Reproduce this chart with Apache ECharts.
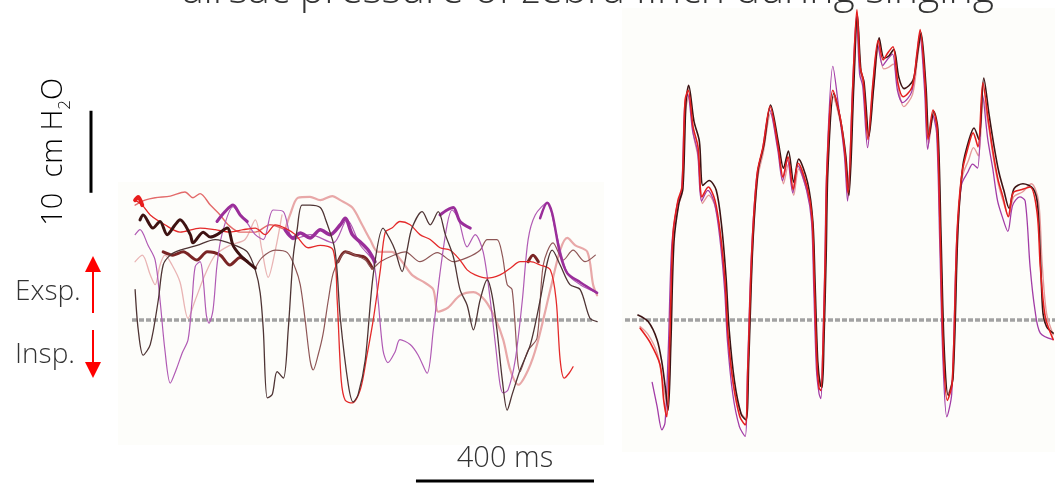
<!DOCTYPE html>
<html><head><meta charset="utf-8">
<script src="https://cdn.jsdelivr.net/npm/echarts@6/dist/echarts.min.js"></script>
<style>html,body{margin:0;padding:0;background:#fff}#c{width:1055px;height:483px}</style>
</head><body><div id="c"></div>
<script>
// ---- quiet breathing traces (left panel): [time ms, pressure cm H2O]
const breathDark = [[0,3.7],[7,-1.2],[18,-4.3],[34,-3.0],[52,2.4],[63,6.7],[79,7.9],[101,8.5],[139,9.1],[180,9.8],[225,9.1],[252,8.3],[270,6.1],[281,3.3],[288,-1.2],[297,-9.5],[308,-9.1],[319,-6.3],[333,-7.1],[344,-1.2],[355,7.6],[364,11.0],[375,14.0],[393,14.0],[416,13.7],[427,12.4],[449,8.5],[461,0.2],[479,-7.9],[490,-10.0],[501,-9.1],[517,-4.9],[535,5.5],[557,11.2],[573,9.8],[584,8.5],[600,5.9],[611,8.5],[622,11.2],[645,13.2],[663,11.6],[681,13.2],[697,10.4],[715,7.7],[730,3.7],[746,1.8],[760,-1.2],[775,2.4],[791,4.9],[802,3.0],[813,-1.2],[825,-7.3],[836,-11.0],[847,-9.1],[865,-6.1],[888,-3.0],[910,2.4],[926,7.0],[937,8.5],[955,6.7],[977,4.3],[1000,3.7],[1022,0.2],[1038,-0.2]];
const breathPurple = [[0,10.4],[11,11.0],[29,9.1],[45,7.3],[56,2.4],[67,-3.7],[79,-7.7],[92,-6.1],[106,-4.0],[119,-2.4],[128,2.4],[135,6.5],[146,7.1],[153,4.9],[160,0.6],[166,-0.4],[175,1.2],[184,6.7],[195,10.4],[220,13.8],[236,12.8],[252,11.8],[270,10.4],[288,9.8],[310,13.4],[333,13.2],[355,9.8],[393,10.4],[445,9.4],[476,12.2],[506,9.1],[535,7.1],[546,2.4],[557,-3.7],[568,-5.2],[584,-3.9],[595,-2.4],[618,-3.0],[636,-4.3],[656,-6.5],[670,-1.2],[685,5.7],[701,11.6],[712,13.4],[726,12.4],[746,8.9],[764,10.4],[782,8.3],[798,2.4],[811,-3.7],[820,-7.9],[827,-8.9],[838,-8.5],[854,-4.9],[870,2.4],[883,9.8],[899,12.8],[926,14.3],[944,11.0],[971,5.7],[1000,4.3],[1038,3.3]];
const breathMagentaA = [[184,12.0],[202,13.2],[220,14.0],[236,12.8],[252,12.0]];
const breathMagentaB = [[337,11.0],[355,10.0],[371,10.6],[393,10.0],[416,11.0],[438,10.4],[461,11.6],[472,12.4],[488,10.4],[506,9.5],[524,8.5],[539,7.1]];
const breathMagentaC = [[685,12.8],[701,13.4],[715,13.7],[730,12.0],[753,11.2]];
const breathMagentaD = [[910,12.4],[926,14.3],[937,13.0],[955,8.0],[971,5.7],[1000,4.6],[1038,3.3]];
const breathRed = [[0,14.6],[16,14.0],[34,12.8],[67,11.6],[101,10.7],[146,11.2],[180,11.0],[213,10.7],[243,11.0],[270,11.2],[292,10.4],[315,11.6],[337,11.2],[360,10.4],[389,8.8],[416,9.1],[445,8.5],[454,2.4],[463,-7.3],[472,-9.8],[488,-10.1],[506,-8.5],[521,-4.3],[535,0],[551,6.1],[562,10.7],[577,11.2],[595,12.0],[618,11.6],[640,10.4],[663,9.8],[685,8.8],[708,8.5],[730,7.3],[746,6.1],[764,5.5],[791,5.1],[820,5.5],[843,6.3],[865,7.1],[888,7.1],[910,6.7],[933,6.1],[946,2.4],[955,-4.9],[964,-7.1],[975,-6.5],[984,-5.7]];
const breathRedStart = [[0,14.6],[7,15.0],[16,14.0]];
const breathSalmon = [[0,14.0],[22,14.6],[45,14.9],[79,15.1],[112,15.6],[130,14.9],[146,15.4],[169,14.0],[191,12.8],[209,11.6],[236,10.7],[270,10.7],[303,11.6],[337,11.0]];
const breathRose = [[337,11.0],[348,12.8],[366,14.9],[393,15.0],[416,14.6],[443,15.1],[461,14.6],[488,13.7],[510,11.6],[528,9.8],[546,8.3],[577,8.3],[600,7.1],[622,5.5],[652,4.5],[670,3.7],[681,1.0],[703,1.5],[730,3.0],[760,3.4],[786,2.4],[809,0.2],[827,-2.4],[843,-6.1],[861,-7.9],[883,-6.1],[903,-3.0],[933,3.7],[955,8.5],[971,10.0],[989,9.1],[1016,8.3],[1029,4.3],[1038,3.0]];
const breathPink = [[0,7.1],[16,7.9],[34,5.5],[45,4.3],[56,6.7],[67,7.9],[83,6.7],[101,4.6],[119,0.2],[135,2.4],[157,5.5],[180,7.9],[213,9.1],[247,9.8],[270,12.2],[285,8.5],[299,5.2],[315,8.5],[330,12.8]];
const breathMaroonA = [[11,12.2],[18,12.8],[40,11.2],[56,12.0],[72,10.4],[90,11.6],[101,12.2],[124,10.4],[130,9.4],[153,10.7],[169,10.1],[184,10.4],[207,11.2],[220,9.1],[236,7.9],[252,7.1],[270,6.3]];
const breathMaroonB = [[63,8.3],[85,7.9],[108,8.3],[139,7.3],[162,8.3],[191,7.9],[213,6.7],[236,7.6],[252,7.1]];
const breathMaroonC = [[456,7.1],[472,8.3],[494,7.9],[517,7.6],[533,6.3]];
const breathMaroonD = [[883,7.1],[894,7.9],[906,7.1]];
const breathBrown = [[270,6.3],[285,7.6],[315,8.5],[342,8.2],[360,6.3],[371,4.3],[382,0],[393,-4.9],[400,-6.1],[411,-4.3],[422,-1.8],[434,2.4],[445,5.7],[461,7.6],[476,8.3],[494,7.9],[517,7.3],[533,6.3],[551,7.1],[577,7.8],[607,8.3],[640,7.1],[679,8.2],[715,7.1],[746,7.6],[775,8.5],[791,9.8],[813,9.8],[825,7.9],[836,4.3],[847,3.7],[865,-6.3],[883,-3.7],[903,-2.2],[917,6.7],[939,9.4],[962,7.3],[984,8.5],[1011,7.1],[1034,7.9]];

// ---- singing traces (right panel): [time ms, pressure cm H2O]
const songRed = [[7,-1.0],[29,-2.7],[52,-5.5],[60,-9.8],[67,-11.8],[74,-1.6],[81,10.6],[92,14.6],[101,16.2],[108,26.8],[115,28.0],[126,23.5],[137,21.1],[146,15.0],[160,16.2],[175,14.6],[187,10.6],[198,4.5],[204,-1.6],[216,-7.7],[231,-11.8],[243,-12.8],[249,-5.7],[258,8.5],[270,17.9],[283,21.1],[299,26.0],[317,21.1],[328,17.4],[339,19.9],[351,15.9],[362,19.1],[382,16.2],[393,12.6],[398,5.0],[404,-5.0],[409,-8.3],[413,-8.6],[418,-3.0],[423,8.0],[427,18.7],[440,28.0],[456,24.8],[467,20.4],[474,15.5],[485,28.9],[494,37.8],[501,30.9],[508,29.3],[519,22.0],[530,28.9],[542,34.1],[553,31.7],[564,32.6],[575,33.3],[586,28.9],[598,27.2],[618,28.4],[629,32.6],[636,35.4],[647,28.9],[654,22.0],[665,25.6],[674,23.5],[681,10.6],[688,-3.7],[697,-9.8],[708,-7.7],[719,10.6],[730,17.9],[744,21.1],[755,22.8],[766,21.1],[777,28.9],[789,24.4],[800,20.4],[811,17.1],[822,15.0],[834,12.6],[845,15.5],[865,15.9],[883,16.2],[899,13.0],[906,6.5],[917,0.4],[935,-2.4]];
const songDark = [[2,0.6],[25,-0.2],[45,-2.4],[56,-5.2],[63,-8.0],[70,-11.0],[76,-3.0],[83,9.5],[94,14.2],[103,16.0],[110,26.5],[116,28.6],[128,24.2],[140,21.8],[148,16.4],[162,17.0],[178,15.8],[190,11.5],[200,5.2],[207,-1.2],[219,-7.5],[234,-11.5],[245,-12.2],[251,-5.0],[260,9.0],[272,18.2],[285,21.3],[300,26.2],[318,21.5],[329,18.5],[340,20.6],[352,16.8],[363,19.6],[383,16.8],[395,12.0],[400,4.5],[406,-5.0],[412,-8.0],[416,-8.2],[420,-2.5],[425,8.0],[429,18.5],[442,27.6],[457,24.4],[469,20.0],[476,15.2],[487,28.6],[495,37.2],[503,30.4],[510,29.0],[521,22.4],[532,28.6],[544,34.4],[555,31.9],[566,32.2],[577,33.0],[588,29.6],[600,28.2],[620,29.2],[631,32.8],[638,35.0],[649,28.6],[656,22.4],[667,25.4],[676,23.2],[683,10.2],[690,-3.4],[699,-9.2],[710,-7.0],[721,11.0],[732,18.8],[746,22.0],[757,23.4],[768,22.0],[779,29.5],[791,25.0],[802,21.2],[813,18.0],[824,15.8],[836,13.6],[847,16.0],[867,16.6],[890,16.0],[900,14.0],[907,6.5],[912,0.8],[920,-0.8],[935,-1.6]];
const songPurple = [[34,-7.6],[45,-10.5],[56,-13.4],[63,-12.5],[70,-4.0],[78,9.0],[90,14.0],[100,15.8],[107,26.0],[114,27.5],[125,23.0],[136,20.5],[145,14.5],[159,15.8],[174,14.2],[186,10.0],[197,3.5],[203,-2.5],[215,-9.0],[230,-13.0],[243,-14.2],[248,-6.5],[257,8.0],[269,17.5],[282,20.8],[298,25.6],[316,20.8],[327,17.0],[338,19.5],[350,15.5],[361,18.8],[381,15.8],[392,12.0],[397,4.0],[403,-6.0],[409,-9.0],[413,-9.6],[417,-4.0],[422,7.0],[426,18.0],[440,30.9],[455,25.0],[466,20.0],[473,14.5],[484,28.0],[493,37.0],[500,30.0],[507,28.5],[518,21.0],[529,28.0],[541,33.5],[552,31.0],[563,31.8],[574,32.4],[585,28.0],[597,26.5],[617,27.8],[628,32.0],[635,34.8],[646,28.0],[653,20.8],[664,25.0],[673,22.8],[680,9.5],[687,-4.5],[696,-11.8],[707,-9.0],[718,9.5],[729,16.5],[743,18.0],[754,19.0],[765,18.5],[776,27.5],[788,22.0],[799,18.5],[810,14.5],[821,12.5],[833,10.8],[844,14.0],[860,15.0],[872,14.5],[883,6.5],[894,1.2],[906,-1.6],[935,-2.4]];
const songPink = [[7,-0.8],[25,-1.8],[45,-4.0],[56,-7.0],[63,-9.2],[69,-10.5],[75,-2.0],[82,10.0],[93,14.0],[102,15.6],[109,25.5],[116,27.2],[127,22.5],[138,19.6],[147,14.2],[161,15.2],[176,13.8],[188,10.0],[199,4.0],[205,-2.0],[217,-8.0],[232,-11.2],[244,-12.0],[250,-5.2],[259,8.2],[271,17.2],[284,20.5],[300,25.2],[318,20.5],[329,16.6],[340,19.0],[352,15.2],[363,18.4],[383,15.5],[394,12.0],[399,4.5],[405,-5.0],[411,-7.6],[415,-7.8],[419,-2.0],[424,8.5],[428,18.0],[441,27.2],[457,24.0],[468,19.6],[475,15.0],[486,28.2],[495,37.0],[502,30.2],[509,28.6],[520,22.5],[531,28.0],[543,33.2],[554,30.6],[565,30.8],[576,31.2],[587,28.2],[599,26.0],[619,27.5],[630,31.8],[637,34.4],[648,28.0],[655,21.5],[666,24.8],[675,22.8],[682,10.2],[689,-3.2],[698,-9.0],[709,-7.2],[720,10.2],[731,17.5],[745,19.5],[756,21.0],[767,20.0],[778,27.0],[790,23.5],[801,19.6],[812,16.5],[823,14.4],[835,12.6],[846,15.0],[866,15.6],[886,16.6],[902,14.5],[910,7.0],[920,0.8],[935,-1.8]];

// ---- baselines (0 cm H2O) and scale bars
const baselineLeft = [[-7,0],[1028,0]];
const baselineRight = [[-27,0],[939,0]];
const scaleTime = [631, 1031];        // 400 ms
const scalePressure = [15.5, 25.5];   // 10 cm H2O
const titleText = 'airsac pressure of zebra finch during singing';

const FONT = "'Open Sans', 'Noto Sans', sans-serif";
function trace(data, color, width, grid, z) {
  return {type:'line', xAxisIndex:grid, yAxisIndex:grid, data:data, showSymbol:false, symbol:'none',
    smooth:0.3, silent:true, animation:false, z:z||3,
    lineStyle:{color:color, width:width, cap:'round', join:'round'}};
}
function base(data, grid) {
  return {type:'line', xAxisIndex:grid, yAxisIndex:grid, data:data, showSymbol:false, symbol:'none',
    silent:true, animation:false, z:2, lineStyle:{color:'#a2a2a2', width:3.5, type:[5,2]}};
}
const chart = echarts.init(document.getElementById('c'), null, {renderer:'canvas'});
const option = {
  animation:false,
  backgroundColor:'#ffffff',
  grid:[{left:132, top:0, width:466, height:443},{left:625, top:0, width:430, height:443}],
  xAxis:[{type:'value', gridIndex:0, min:-7, max:1040, show:false},
         {type:'value', gridIndex:1, min:-27, max:939, show:false}],
  yAxis:[{type:'value', gridIndex:0, min:-15, max:39, show:false},
         {type:'value', gridIndex:1, min:-15, max:39, show:false}],
  series:[
    base(baselineLeft,0), base(baselineRight,1),
    trace(breathPink,'#e9b4b4',1.3,0),
    trace(breathRose,'#e8a8a8',2.2,0),
    trace(breathSalmon,'#e36a6a',1.4,0),
    trace(breathMaroonB,'#7a2525',3,0),
    trace(breathMaroonC,'#7a2525',3,0),
    trace(breathMaroonD,'#7a2525',3,0),
    trace(breathBrown,'#8e5656',1.2,0),
    trace(breathPurple,'#b05ab4',1.2,0),
    trace(breathMagentaA,'#9a2e9a',3,0),
    trace(breathMagentaB,'#9a2e9a',3.5,0),
    trace(breathMagentaC,'#9a2e9a',3,0),
    trace(breathMagentaD,'#9a2e9a',2.5,0),
    trace(breathRed,'#e42a2a',1.3,0),
    trace(breathRedStart,'#e81c1c',4,0),
    trace(breathDark,'#4e3434',1.3,0),
    trace(breathMaroonA,'#3e1212',3,0),
    trace(songPink,'#e59a9a',1.4,1),
    trace(songPurple,'#a23ca6',1.3,1),
    trace(songDark,'#3d1414',1.6,1),
    trace(songRed,'#e41f1f',1.6,1)
  ]
};
chart.setOption(option);

const pT0 = chart.convertToPixel({gridIndex:0}, [scaleTime[0], 0]);
const pT1 = chart.convertToPixel({gridIndex:0}, [scaleTime[1], 0]);
const pP0 = chart.convertToPixel({gridIndex:0}, [0, scalePressure[0]]);
const pP1 = chart.convertToPixel({gridIndex:0}, [0, scalePressure[1]]);
const zeroY = chart.convertToPixel({gridIndex:0}, [0, 0])[1];
const barY = 481, vbarX = 91, arrowX = 93;
// text placed by baseline: top = baseline - 0.84 * fontSize
const txt = (x, baseline, text, size, extra) => Object.assign({type:'text', x:x, y:baseline - 0.84*size, z:100,
  style:Object.assign({text:text, fill:'#333333', font:'300 '+size+'px '+FONT, textVerticalAlign:'top'}, extra||{})});

chart.setOption({graphic:[
  {type:'rect', z:0, shape:{x:118, y:182, width:486, height:263}, style:{fill:'#fdfdfa'}},
  {type:'rect', z:0, shape:{x:622, y:8, width:433, height:444}, style:{fill:'#fdfdfa'}},
  txt(588, 5, titleText, 41, {textAlign:'center'}),
  {type:'line', z:100, shape:{x1:vbarX, y1:pP0[1], x2:vbarX, y2:pP1[1]}, style:{stroke:'#000', lineWidth:3}},
  {type:'text', z:100, x:68, y:(pP0[1]+pP1[1])/2, rotation:Math.PI/2,
    style:{text:'{a|10  cm H}{s|2}{a|O}', textAlign:'center', textVerticalAlign:'bottom',
      rich:{a:{fontFamily:FONT, fontWeight:300, fontSize:29, color:'#333', lineHeight:34, verticalAlign:'bottom'},
            s:{fontFamily:FONT, fontWeight:300, fontSize:17, color:'#333', lineHeight:34, verticalAlign:'bottom', padding:[0,0,-6,0]}}}},
  txt(15, 302, 'Exsp.', 28),
  txt(15, 365, 'Insp.', 28),
  {type:'line', z:100, shape:{x1:arrowX, y1:zeroY-7, x2:arrowX, y2:270}, style:{stroke:'#ff0000', lineWidth:2}},
  {type:'polygon', z:100, shape:{points:[[arrowX,256],[arrowX-8,272],[arrowX+8,272]]}, style:{fill:'#ff0000'}},
  {type:'line', z:100, shape:{x1:arrowX, y1:zeroY+10, x2:arrowX, y2:364}, style:{stroke:'#ff0000', lineWidth:2}},
  {type:'polygon', z:100, shape:{points:[[arrowX,378],[arrowX-8,362],[arrowX+8,362]]}, style:{fill:'#ff0000'}},
  {type:'line', z:100, shape:{x1:pT0[0], y1:barY, x2:pT1[0], y2:barY}, style:{stroke:'#000', lineWidth:3}},
  txt((pT0[0]+pT1[0])/2, 469, '400 ms', 29, {textAlign:'center'})
]});
</script></body></html>
